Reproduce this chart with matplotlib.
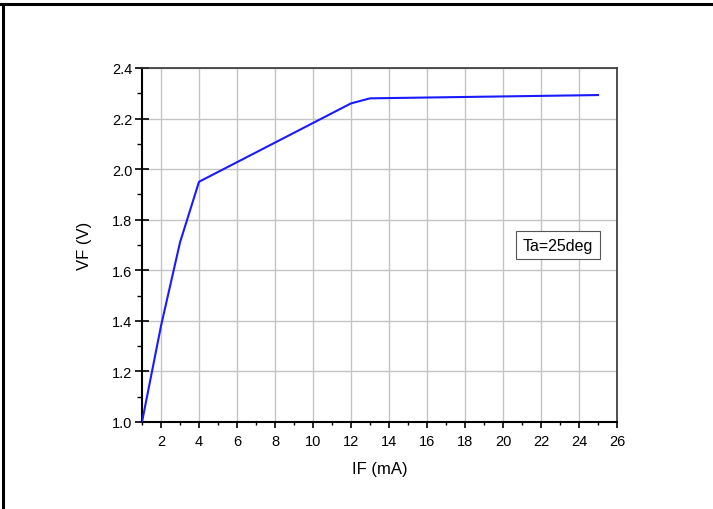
import matplotlib
matplotlib.use('Agg')
import matplotlib.pyplot as plt
from matplotlib.lines import Line2D
from matplotlib.ticker import MultipleLocator

plt.rcParams['font.family'] = ['Liberation Sans', 'DejaVu Sans']

# forward current (mA) vs forward voltage (V)
if_ma = [1, 2, 3, 4, 12, 13, 25]
vf_v = [1.0, 1.38, 1.71, 1.95, 2.26, 2.28, 2.293]
note = 'Ta=25deg'

fig = plt.figure(figsize=(7.13, 5.10), dpi=100)
ax = fig.add_axes([142/713, 1 - 423/510, 475/713, 354/510])

ax.plot(if_ma, vf_v, color='#1a1aff', lw=1.5, zorder=3)

ax.set_xlim(1, 26)
ax.set_ylim(1.0, 2.4)
ax.xaxis.set_major_locator(MultipleLocator(2))
ax.xaxis.set_minor_locator(MultipleLocator(1))
ax.yaxis.set_major_locator(MultipleLocator(0.2))
ax.yaxis.set_minor_locator(MultipleLocator(0.1))
ax.yaxis.set_major_formatter(plt.FormatStrFormatter('%.1f'))
ax.grid(True, which='major', color='#c4c4c4', lw=1.0, zorder=0)

ax.tick_params(which='major', direction='inout', length=10, width=1.2,
               labelsize=10.5, top=False, right=False)
ax.tick_params(which='minor', direction='out', length=3.5, width=1.0,
               top=False, right=False)
ax.tick_params(axis='x', which='major', direction='out', length=4, pad=5)
ax.tick_params(axis='x', which='minor', length=2.5)
ax.tick_params(axis='y', which='major', pad=2)

for s in ['left', 'bottom']:
    ax.spines[s].set_linewidth(1.5)
for s in ['top', 'right']:
    ax.spines[s].set_linewidth(1.2)
    ax.spines[s].set_color('#333333')

ax.set_xlabel('IF (mA)', fontsize=12)
ax.set_ylabel('VF (V)', fontsize=12)
ax.xaxis.set_label_coords(0.5, -0.11)
ax.yaxis.set_label_coords(-0.105, 0.5)

ax.text(0.875, 0.5, note, transform=ax.transAxes, fontsize=11.5,
        ha='center', va='center',
        bbox=dict(boxstyle='square,pad=0.42', fc='white', ec='#555555', lw=0.8),
        zorder=4)

# page frame: top and left border lines
fig.add_artist(Line2D([0, 1], [1 - 5/510, 1 - 5/510], color='black', lw=2.2))
fig.add_artist(Line2D([2.5/713, 2.5/713], [0, 1 - 5/510], color='black', lw=2.2))

fig.savefig('out.png', dpi=100)
